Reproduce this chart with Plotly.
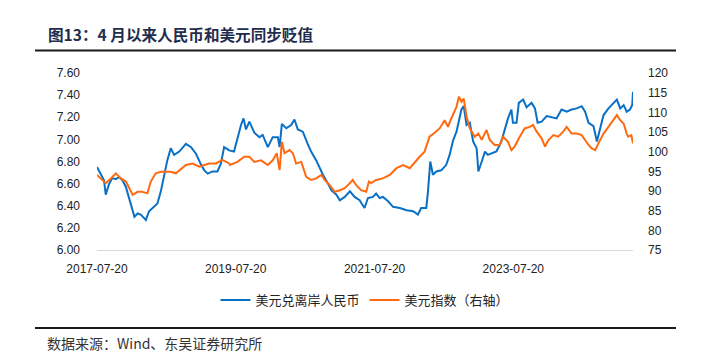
import plotly.graph_objects as go

cnh_dates = ["2017-07-20","2017-08-09","2017-08-26","2017-09-04","2017-09-22","2017-10-09","2017-10-27","2017-11-14","2017-12-01","2017-12-19",
"2018-01-06","2018-01-24","2018-02-02","2018-02-19","2018-03-07","2018-03-24","2018-04-03","2018-04-20","2018-05-16","2018-06-03",
"2018-06-21","2018-07-08","2018-07-25","2018-08-12","2018-08-30","2018-09-26","2018-10-31","2018-11-27","2018-12-23","2019-01-19",
"2019-02-05","2019-02-23","2019-03-20","2019-04-15","2019-05-03","2019-05-20","2019-06-16","2019-07-11","2019-07-29","2019-08-17",
"2019-08-30","2019-09-12","2019-09-30","2019-10-26","2019-11-22","2019-12-09","2020-01-05","2020-01-31","2020-02-27","2020-03-07",
"2020-03-19","2020-04-11","2020-05-07","2020-05-24","2020-06-11","2020-07-07","2020-08-02","2020-08-20","2020-09-16","2020-10-04",
"2020-10-21","2020-11-17","2020-12-05","2020-12-31","2021-01-18","2021-02-13","2021-03-12","2021-04-06","2021-05-02","2021-05-28",
"2021-06-15","2021-07-11","2021-07-28","2021-08-16","2021-09-02","2021-09-29","2021-10-25","2021-11-30","2022-01-04","2022-02-08",
"2022-03-05","2022-03-22","2022-04-18","2022-04-27","2022-05-09","2022-05-23","2022-06-10","2022-07-06","2022-08-01","2022-08-19",
"2022-09-06","2022-09-24","2022-10-07","2022-10-20","2022-11-01","2022-11-16","2022-12-03","2022-12-21","2023-01-08","2023-01-17",
"2023-02-04","2023-02-21","2023-03-08","2023-03-26","2023-04-22","2023-05-18","2023-06-04","2023-06-22","2023-07-10","2023-07-18",
"2023-08-06","2023-08-18","2023-09-10","2023-09-28","2023-10-24","2023-11-11","2023-11-25","2023-12-16","2024-01-12","2024-02-07",
"2024-03-04","2024-03-30","2024-04-26","2024-05-22","2024-06-18","2024-07-14","2024-08-01","2024-08-19","2024-09-14","2024-10-02",
"2024-10-19","2024-11-06","2024-12-02","2024-12-28","2025-01-15","2025-02-02","2025-02-20","2025-03-08","2025-03-25","2025-04-06",
"2025-04-10"]
cnh_values = [6.75,6.69,6.63,6.50,6.60,6.65,6.64,6.66,6.63,6.57,
6.47,6.35,6.30,6.33,6.32,6.29,6.27,6.35,6.39,6.42,
6.53,6.68,6.81,6.92,6.86,6.89,6.96,6.93,6.87,6.77,
6.72,6.69,6.71,6.71,6.78,6.93,6.90,6.89,7.02,7.13,
7.19,7.09,7.16,7.06,7.02,7.04,6.93,7.02,7.02,6.93,
7.14,7.10,7.13,7.18,7.09,7.07,6.96,6.89,6.81,6.74,
6.68,6.60,6.54,6.50,6.45,6.48,6.53,6.48,6.45,6.38,
6.47,6.48,6.51,6.47,6.48,6.44,6.39,6.38,6.36,6.35,
6.32,6.38,6.38,6.53,6.80,6.68,6.71,6.72,6.77,6.86,
6.99,7.07,7.18,7.27,7.30,7.13,7.15,6.98,6.92,6.71,
6.80,6.89,6.86,6.87,6.89,6.98,7.08,7.19,7.27,7.15,
7.15,7.33,7.36,7.29,7.33,7.28,7.15,7.16,7.21,7.20,
7.19,7.27,7.25,7.27,7.28,7.30,7.25,7.15,7.12,6.98,
7.10,7.22,7.28,7.33,7.36,7.28,7.31,7.25,7.27,7.31,
7.43]

dxy_dates = ["2017-07-20","2017-08-09","2017-09-04","2017-10-01","2017-10-27","2017-11-23","2017-12-19","2018-01-06","2018-01-24","2018-02-19",
"2018-03-15","2018-04-11","2018-04-29","2018-05-25","2018-06-21","2018-07-17","2018-08-12","2018-09-08","2018-09-26","2018-10-31",
"2018-12-05","2019-01-10","2019-02-05","2019-03-02","2019-04-07","2019-05-11","2019-06-16","2019-06-20","2019-07-29","2019-09-03",
"2019-09-30","2019-10-26","2019-11-30","2020-01-05","2020-01-31","2020-02-21","2020-03-07","2020-03-19","2020-04-02","2020-04-28",
"2020-05-16","2020-06-02","2020-06-29","2020-07-25","2020-08-20","2020-09-16","2020-10-13","2020-10-30","2020-11-26","2020-12-22",
"2021-01-18","2021-02-13","2021-03-12","2021-03-27","2021-04-14","2021-05-10","2021-06-06","2021-06-20","2021-07-02","2021-07-28",
"2021-09-02","2021-10-08","2021-11-12","2021-12-17","2022-01-21","2022-02-17","2022-03-14","2022-04-09","2022-05-05","2022-06-01",
"2022-06-27","2022-07-24","2022-08-10","2022-08-28","2022-09-24","2022-10-07","2022-10-20","2022-11-01","2022-11-16","2022-12-03",
"2022-12-29","2023-01-17","2023-02-04","2023-03-01","2023-03-18","2023-04-13","2023-05-09","2023-05-27","2023-06-22","2023-07-10",
"2023-07-27","2023-08-23","2023-09-18","2023-10-15","2023-11-01","2023-11-20","2023-12-16","2024-01-03","2024-01-20","2024-02-16",
"2024-03-12","2024-04-08","2024-04-26","2024-05-22","2024-06-18","2024-07-14","2024-08-01","2024-08-19","2024-09-05","2024-09-23",
"2024-10-10","2024-11-06","2024-12-02","2024-12-28","2025-01-15","2025-02-02","2025-02-20","2025-03-08","2025-03-16","2025-04-01",
"2025-04-10"]
dxy_values = [94.1,93.2,92.0,93.2,94.5,93.2,92.4,90.7,89.0,89.8,
89.8,89.4,92.4,94.5,94.9,94.9,94.9,94.5,95.3,96.6,
97.0,96.2,96.6,97.0,97.0,97.9,97.0,96.6,97.4,98.7,
98.7,97.4,97.8,96.6,97.8,99.6,95.3,102.5,99.6,100.4,
99.6,97.0,97.4,93.6,92.8,93.2,94.1,92.8,91.5,89.8,
90.2,90.7,92.0,92.8,91.5,90.2,89.8,92.4,92.0,92.8,
93.2,94.1,95.8,96.6,95.8,97.4,98.7,100.0,103.8,104.8,
105.9,108.0,106.3,108.5,111.4,114.0,112.7,113.5,109.0,105.9,
103.8,104.6,103.0,105.5,103.0,101.7,101.7,103.8,102.5,100.4,
101.3,103.8,105.9,106.3,106.8,105.1,103.4,101.3,102.9,104.2,
103.8,105.1,106.3,104.6,104.6,104.2,102.9,101.7,100.8,100.4,
102.1,104.6,106.3,108.0,109.3,108.0,107.1,104.6,103.8,104.2,
102.1]

x_ticks = ["2017-07-20","2019-07-20","2021-07-20","2023-07-20"]
x_tick_text = ["2017-07-20","2019-07-20","2021-07-20","2023-07-20"]

title_text = "图13：4 月以来人民币和美元同步贬值"
source_text = "数据来源：Wind、东吴证券研究所"
name_cnh = "美元兑离岸人民币"
name_dxy = "美元指数（右轴）"

BLUE = "#0A70C6"
ORANGE = "#FF6A10"
FONT = "Noto Sans CJK SC"

fig = go.Figure()
fig.add_trace(go.Scatter(x=cnh_dates, y=cnh_values, name=name_cnh, mode="lines",
                         line=dict(color=BLUE, width=2), yaxis="y"))
fig.add_trace(go.Scatter(x=dxy_dates, y=dxy_values, name=name_dxy, mode="lines",
                         line=dict(color=ORANGE, width=2), yaxis="y2"))

W, H = 703, 353
L, R, T, B = 97, 70, 73, 103
pw, ph = W - L - R, H - T - B

def px(x):
    return (x - L) / pw

def py(y):
    return (H - B - y) / ph

fig.update_layout(
    width=W, height=H,
    margin=dict(l=L, r=R, t=T, b=B, pad=0),
    paper_bgcolor="white", plot_bgcolor="white",
    font=dict(family=FONT, size=12, color="#222222"),
    showlegend=True,
    legend=dict(orientation="h", x=0.5, xanchor="center", y=py(300), yanchor="middle",
                font=dict(size=13, color="#222222"), itemwidth=30, tracegroupgap=0,
                bgcolor="rgba(0,0,0,0)"),
    xaxis=dict(type="date", range=["2017-07-20", "2025-04-10"], tickvals=x_ticks, ticktext=x_tick_text,
               showgrid=False, zeroline=False, showline=True, linecolor="#D9D9D9", linewidth=1,
               ticks="", ticklabelstandoff=8, tickfont=dict(size=12, family="Liberation Sans, Arial", color="#222")),
    yaxis=dict(range=[6.0, 7.6], dtick=0.2, tickformat=".2f", showgrid=False, zeroline=False,
               showline=False, ticks="", ticklabelstandoff=16,
               tickfont=dict(size=12, family="Liberation Sans, Arial", color="#222")),
    yaxis2=dict(range=[75, 120], dtick=5, overlaying="y", side="right", showgrid=False, zeroline=False,
                showline=False, ticks="", ticklabelstandoff=14,
                tickfont=dict(size=12, family="Liberation Sans, Arial", color="#222")),
)

fig.add_annotation(text="<b>" + title_text + "</b>", xref="paper", yref="paper",
                   x=px(46), y=py(34), xanchor="left", yanchor="middle", showarrow=False,
                   font=dict(size=15.6, color="#1F2D4D", family=FONT))
fig.add_annotation(text=source_text, xref="paper", yref="paper",
                   x=px(45), y=py(343), xanchor="left", yanchor="middle", showarrow=False,
                   font=dict(size=14, color="#333333", family=FONT))
fig.add_shape(type="line", xref="paper", yref="paper", x0=px(35), x1=px(676), y0=py(50.5), y1=py(50.5),
              line=dict(color="#1a1a1a", width=2))
fig.add_shape(type="line", xref="paper", yref="paper", x0=px(35), x1=px(676), y0=py(328), y1=py(328),
              line=dict(color="#1a1a1a", width=2))

fig.write_html("out.html")
